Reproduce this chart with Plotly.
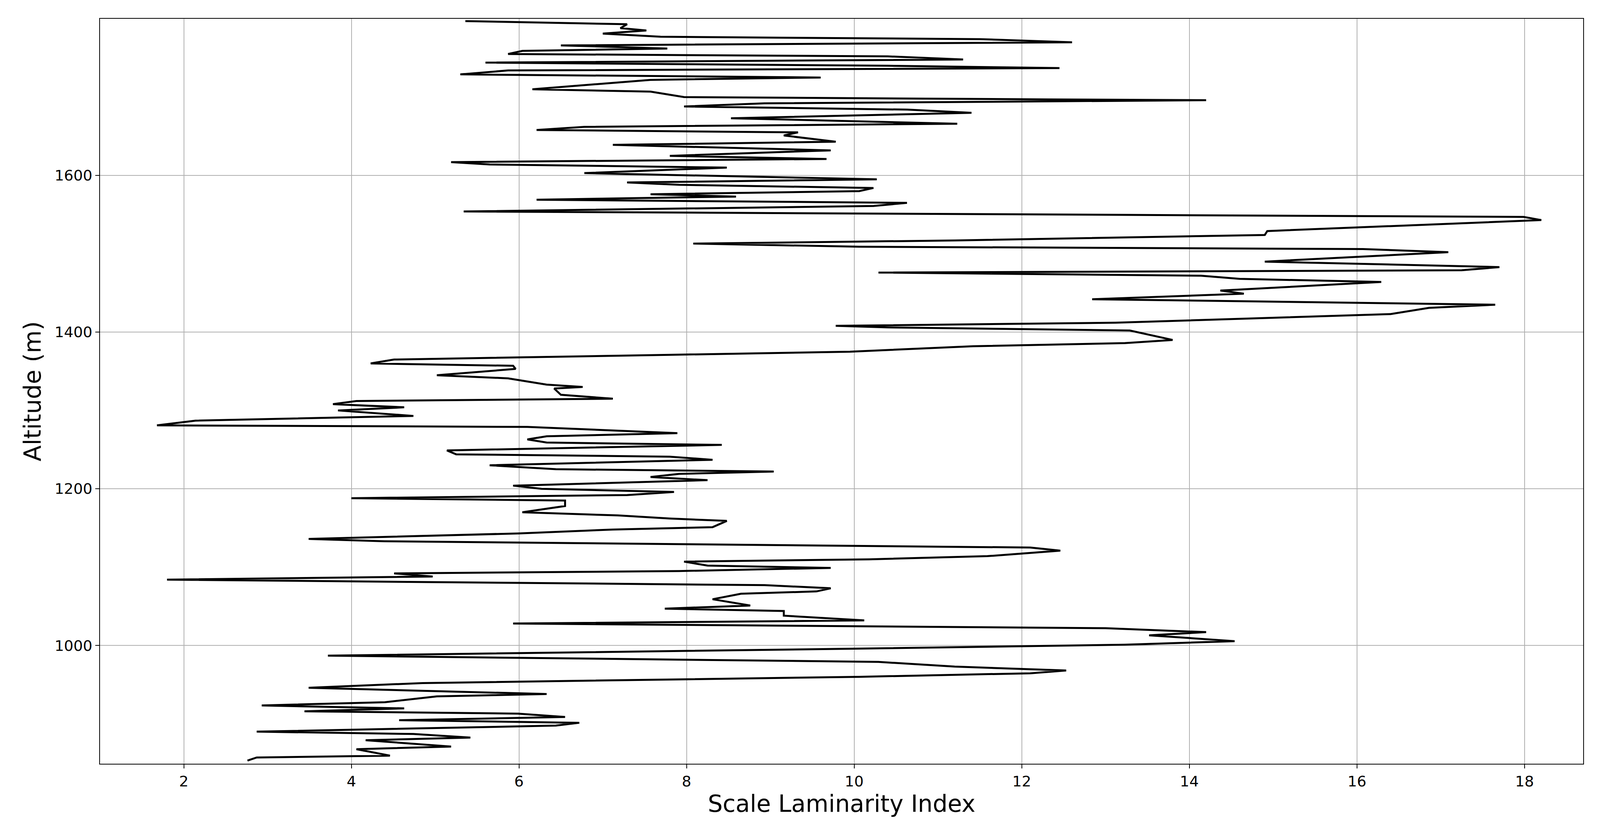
import plotly.graph_objects as go

# Scale Laminarity Index vs altitude (top to bottom)
sli = [5.36, 7.29, 7.21, 7.52, 7.0, 7.69, 11.5, 12.6, 6.5, 7.18, 7.77, 6.04, 5.87, 10.4, 11.3, 5.6,
       10.4, 12.45, 5.87, 5.3, 8.36, 9.6, 7.57, 7.0, 6.16, 7.57, 7.97, 12.33, 14.2, 8.93, 7.97, 10.63,
       11.4, 8.53, 10.5, 11.23, 6.78, 6.21, 9.33, 9.16, 9.78, 7.12, 9.72, 7.8, 9.67, 5.19, 5.65, 8.48,
       6.78,
       10.27, 7.29, 7.91, 10.23, 10.06, 7.57, 8.59, 6.21, 10.63, 10.23, 5.34, 17.99, 18.2, 14.93, 14.9,
       11.2, 8.08, 10.06, 16.07, 17.09, 14.9, 17.7, 17.25, 10.29, 14.14, 14.6, 16.29, 14.37, 14.65,
       12.84, 17.65, 16.86, 16.4, 13.12, 9.78, 10.4, 13.29,
       13.8, 13.23, 11.42, 9.95, 7.8, 4.51, 4.23, 5.93, 5.96, 5.02, 5.87, 6.33, 6.76, 6.42, 6.5, 7.12,
       4.06, 3.78, 4.63, 3.84, 4.74, 2.14, 1.68, 6.1, 7.89, 6.33, 6.1, 6.33, 8.42, 5.14, 5.25, 7.8,
       8.31, 5.65, 6.44, 9.04, 7.91, 7.57, 8.25, 5.93,
       6.27, 7.85, 7.29, 4.0, 6.55, 6.55, 6.04, 7.18, 7.8, 8.48, 8.31, 7.12, 5.99, 3.49, 4.4, 12.1,
       12.46, 11.59, 10.18, 7.97, 8.25, 9.72, 7.91, 4.51, 4.97, 1.8, 8.93, 9.72, 9.55, 8.65, 8.31, 8.76,
       7.74, 9.16, 9.16, 10.12, 5.93, 13.0, 14.2, 13.52,
       14.54, 13.23, 10.06, 4.4, 3.72, 10.29, 11.2, 12.53, 12.1, 10.06, 4.85, 3.49, 6.33, 5.02, 4.4,
       2.93, 4.63, 3.44, 5.99, 6.55, 4.57, 6.72, 6.44, 2.87, 4.74, 5.42, 4.17, 5.19, 4.06, 4.46, 2.87,
       2.76]
altitude = [1797, 1793, 1788, 1785, 1781, 1777, 1774, 1770, 1766, 1764, 1762, 1759, 1755, 1752, 1748, 1744,
            1740, 1737, 1734, 1729, 1726, 1725, 1722, 1717, 1710, 1707, 1700, 1697, 1696, 1692, 1688, 1684,
            1680, 1673, 1668, 1666, 1662, 1658, 1655, 1651, 1643, 1639, 1632, 1625, 1621, 1617, 1614, 1610,
            1603,
            1595, 1591, 1588, 1584, 1580, 1576, 1573, 1569, 1565, 1561, 1554, 1547, 1543, 1529, 1524,
            1517, 1513, 1509, 1506, 1502, 1490, 1483, 1479, 1476, 1472, 1468, 1464, 1453, 1449,
            1442, 1435, 1431, 1423, 1412, 1408, 1406, 1402,
            1390, 1386, 1382, 1375, 1371, 1365, 1360, 1357, 1353, 1345, 1341, 1333, 1330, 1328, 1320, 1315,
            1312, 1308, 1304, 1300, 1293, 1287, 1281, 1279, 1271, 1267, 1263, 1259, 1256, 1249, 1244, 1241,
            1237, 1230, 1225, 1222, 1219, 1215, 1211, 1204,
            1200, 1196, 1192, 1188, 1185, 1178, 1170, 1166, 1162, 1159, 1151, 1148, 1143, 1136, 1133, 1125,
            1121, 1114, 1110, 1107, 1102, 1099, 1095, 1092, 1088, 1084, 1077, 1073, 1069, 1066, 1059, 1051,
            1047, 1044, 1038, 1032, 1028, 1022, 1017, 1013,
            1005.5, 1001, 996, 988, 987, 979, 973, 968, 964.5, 960, 952, 946, 938, 935, 927.6,
            923.4, 919.7, 916, 913, 908.7, 904.6, 901.3, 897.7, 890, 887, 882.4, 879, 871, 867.6, 859.4, 857,
            853]

fig = go.Figure(go.Scatter(x=sli, y=altitude, mode='lines',
                           line={'color': 'black', 'width': 5}, showlegend=False))

axis_style = dict(showline=True, linecolor='black', linewidth=2, mirror=True,
                  ticks='outside', ticklen=10, tickwidth=2, tickcolor='black',
                  showgrid=True, gridcolor='#b0b0b0', gridwidth=2, zeroline=False,
                  tickfont={'size': 38, 'color': 'black'})

fig.update_xaxes(range=[1.0, 18.7], dtick=2, title={'text': 'Scale Laminarity Index',
                 'font': {'size': 60, 'color': 'black'}, 'standoff': 8}, **axis_style)
fig.update_yaxes(range=[849, 1800], tickvals=[1000, 1200, 1400, 1600],
                 title={'text': 'Altitude (m)', 'font': {'size': 60, 'color': 'black'}, 'standoff': 16},
                 **axis_style)

fig.update_layout(plot_bgcolor='white', paper_bgcolor='white',
                  font={'family': 'DejaVu Sans'},
                  margin={'l': 248, 'r': 35, 't': 40, 'b': 159})

fig.write_html("out.html")
